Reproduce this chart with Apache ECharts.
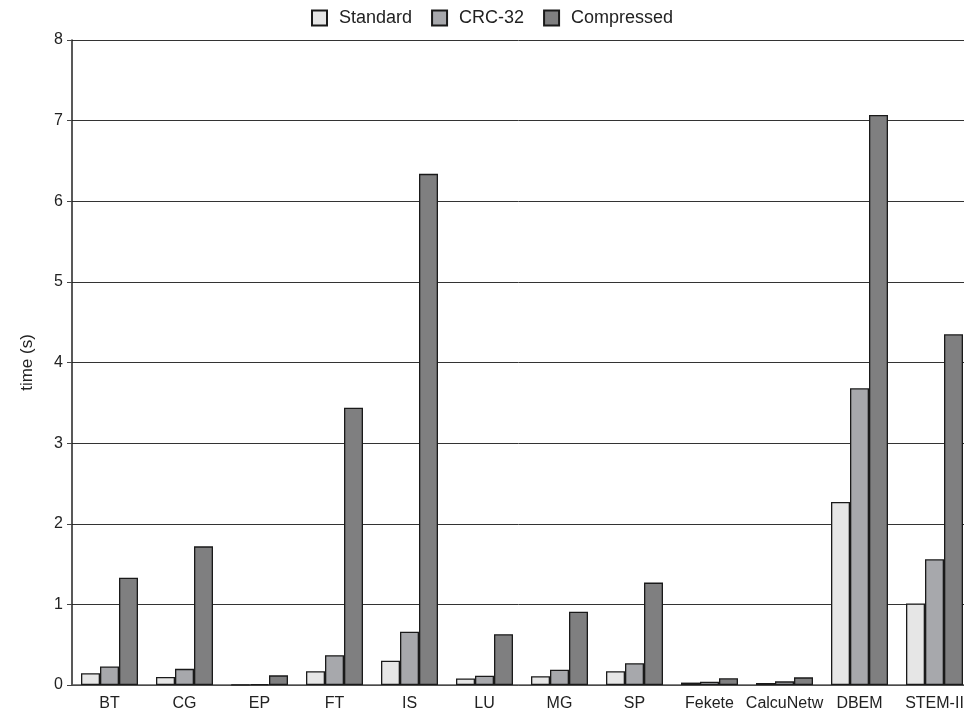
<!DOCTYPE html>
<html><head><meta charset="utf-8">
<script src="https://cdn.jsdelivr.net/npm/echarts@6/dist/echarts.min.js"></script>
<style>html,body{margin:0;padding:0;background:#fff}#c{width:964px;height:713px}</style>
</head><body><div id="c"></div>
<script>
const categories = ['BT','CG','EP','FT','IS','LU','MG','SP','Fekete','CalcuNetw','DBEM','STEM-II'];
const standard   = [0.145,0.10,0.005,0.17,0.30,0.08,0.11,0.17,0.03,0.025,2.27,1.01];
const crc32      = [0.23,0.20,0.01,0.37,0.66,0.115,0.19,0.27,0.04,0.045,3.68,1.56];
const compressed = [1.33,1.72,0.12,3.44,6.34,0.63,0.91,1.27,0.083,0.095,7.07,4.35];
const yTicks = [0,1,2,3,4,5,6,7,8];

const font = 'Liberation Sans, Arial, sans-serif';
const chart = echarts.init(document.getElementById('c'), null, {renderer:'canvas'});
function s(name, data, color){
  return {name, type:'bar', data, barGap:'0%', barCategoryGap:'24%',
    itemStyle:{color, borderColor:'#1a1a1a', borderWidth:1.3}, animation:false};
}
chart.setOption({
  animation:false,
  textStyle:{fontFamily:font},
  legend:{top:4, left:306, itemWidth:15, itemHeight:15, itemGap:19, icon:'rect',
    textStyle:{fontSize:18, color:'#222', fontFamily:font, padding:[0,0,0,7]},
    data:['Standard','CRC-32','Compressed']},
  grid:{left:72, width:900, top:40, bottom:28, containLabel:false, outerBoundsMode:'none'},
  xAxis:{type:'category', data:categories,
    axisLine:{lineStyle:{color:'#555', width:1.5}},
    axisTick:{alignWithLabel:true, length:5, lineStyle:{color:'#555'}},
    axisLabel:{fontSize:16, color:'#222', margin:11, interval:0, fontFamily:font}},
  yAxis:{type:'value', min:0, max:8, interval:1,
    name:'time (s)', nameLocation:'middle', nameGap:36, nameRotate:90,
    nameTextStyle:{fontSize:17, color:'#222', fontFamily:font},
    axisLine:{show:true, lineStyle:{color:'#222', width:1.5}},
    axisTick:{show:true, length:5, lineStyle:{color:'#444'}},
    axisLabel:{fontSize:16, color:'#222', margin:9, fontFamily:font,
      formatter:v=>yTicks.includes(v)?String(v):''},
    splitLine:{show:true, lineStyle:{color:'#333', width:1}}},
  series:[s('Standard',standard,'#e6e6e6'), s('CRC-32',crc32,'#a7a8ac'), s('Compressed',compressed,'#7f7f80')]
});
</script></body></html>
